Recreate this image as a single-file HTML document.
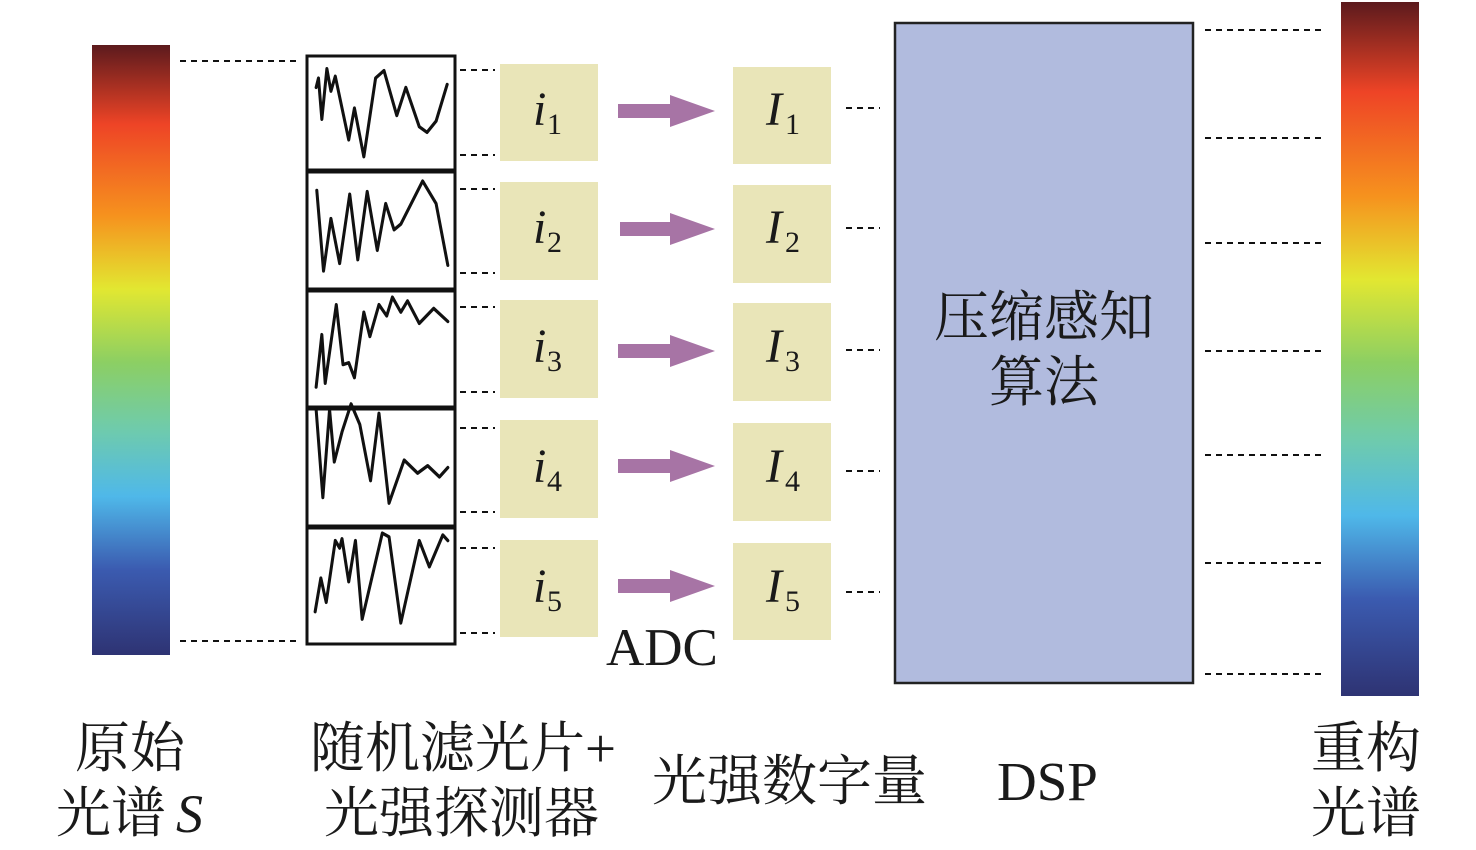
<!DOCTYPE html>
<html><head><meta charset="utf-8"><style>
html,body{margin:0;padding:0;background:#fff;}
svg{display:block;}
.cj{font-family:"Liberation Serif","Noto Serif CJK SC",serif;font-size:55px;fill:#1a1a1a;}
.it{font-family:"Liberation Serif",serif;font-style:italic;font-size:48px;fill:#1a1a1a;}
.sb{font-family:"Liberation Serif",serif;font-size:30px;fill:#1a1a1a;}
</style></head><body>
<svg width="1476" height="850" viewBox="0 0 1476 850" xmlns="http://www.w3.org/2000/svg">
<defs>
<linearGradient id="sp" x1="0" y1="0" x2="0" y2="1">
<stop offset="0" stop-color="#5c1a1d"/>
<stop offset="0.13" stop-color="#ee4426"/>
<stop offset="0.28" stop-color="#f6921e"/>
<stop offset="0.40" stop-color="#e2e731"/>
<stop offset="0.52" stop-color="#8ccf63"/>
<stop offset="0.63" stop-color="#6fcbac"/>
<stop offset="0.74" stop-color="#4fb8e9"/>
<stop offset="0.86" stop-color="#3b5bb0"/>
<stop offset="1" stop-color="#2e3373"/>
</linearGradient>
</defs>
<rect x="92" y="45" width="78" height="610" fill="url(#sp)"/>
<rect x="1341" y="2" width="78" height="694" fill="url(#sp)"/>
<g stroke="#111" stroke-width="2" stroke-dasharray="6,5">
<line x1="180" y1="61" x2="298" y2="61"/>
<line x1="180" y1="641" x2="298" y2="641"/>
<line x1="460" y1="70" x2="495" y2="70"/><line x1="460" y1="155" x2="495" y2="155"/>
<line x1="460" y1="189" x2="495" y2="189"/><line x1="460" y1="273" x2="495" y2="273"/>
<line x1="460" y1="307" x2="495" y2="307"/><line x1="460" y1="392" x2="495" y2="392"/>
<line x1="460" y1="428" x2="495" y2="428"/><line x1="460" y1="512" x2="495" y2="512"/>
<line x1="460" y1="548" x2="495" y2="548"/><line x1="460" y1="633" x2="495" y2="633"/>
<line x1="846" y1="108" x2="880" y2="108"/><line x1="846" y1="228" x2="880" y2="228"/>
<line x1="846" y1="350" x2="880" y2="350"/><line x1="846" y1="471" x2="880" y2="471"/>
<line x1="846" y1="592" x2="880" y2="592"/>
<line x1="1205" y1="30" x2="1322" y2="30"/><line x1="1205" y1="138" x2="1322" y2="138"/>
<line x1="1205" y1="243" x2="1322" y2="243"/><line x1="1205" y1="351" x2="1322" y2="351"/>
<line x1="1205" y1="455" x2="1322" y2="455"/><line x1="1205" y1="563" x2="1322" y2="563"/>
<line x1="1205" y1="674" x2="1322" y2="674"/>
</g>
<g fill="none" stroke="#111" stroke-width="3">
<rect x="307" y="56" width="148" height="114"/>
<rect x="307" y="172" width="148" height="117"/>
<rect x="307" y="291" width="148" height="116"/>
<rect x="307" y="409" width="148" height="117"/>
<rect x="307" y="528" width="148" height="116"/>
</g>
<g transform="translate(300,50) scale(0.336,0.3745)" fill="none" stroke="#111" stroke-width="9" stroke-linejoin="round" stroke-linecap="round">
<polyline points="48,100 55,75 65,185 80,50 92,110 105,70 145,240 162,155 190,285 225,75 250,55 288,175 315,100 355,205 378,220 405,190 438,92"/>
<polyline points="50,375 70,590 92,450 118,570 148,385 172,560 200,378 230,535 255,410 280,480 300,465 365,350 405,410 440,575"/>
<polyline points="48,900 65,760 75,890 108,680 128,840 145,835 162,875 190,700 208,765 235,680 258,710 275,660 300,700 320,670 355,730 398,690 440,725"/>
<polyline points="48,960 68,1195 88,960 102,1100 125,1020 152,945 178,1000 210,1150 235,970 265,1210 310,1095 350,1130 380,1110 415,1140 440,1115"/>
<polyline points="45,1500 62,1410 78,1475 105,1310 118,1330 125,1305 145,1420 165,1310 185,1520 245,1290 265,1300 300,1530 355,1310 385,1380 425,1295 440,1310"/>
</g>
<g fill="#e9e5b8">
<rect x="500" y="64" width="98" height="97"/><rect x="500" y="182" width="98" height="98"/>
<rect x="500" y="300" width="98" height="98"/><rect x="500" y="420" width="98" height="98"/>
<rect x="500" y="540" width="98" height="97"/>
<rect x="733" y="67" width="98" height="97"/><rect x="733" y="185" width="98" height="98"/>
<rect x="733" y="303" width="98" height="98"/><rect x="733" y="423" width="98" height="98"/>
<rect x="733" y="543" width="98" height="97"/>
</g>
<g fill="#a774a5">
<path d="M618,104 h52 v-9 l45,16 l-45,16 v-9 h-52z"/>
<path d="M620,222 h50 v-9 l45,16 l-45,16 v-9 h-50z"/>
<path d="M618,344 h52 v-9 l45,16 l-45,16 v-9 h-52z"/>
<path d="M618,459 h52 v-9 l45,16 l-45,16 v-9 h-52z"/>
<path d="M618,579 h52 v-9 l45,16 l-45,16 v-9 h-52z"/>
</g>
<g>
<text x="533" y="125" class="it">i</text><text x="547" y="134" class="sb">1</text>
<text x="533" y="243" class="it">i</text><text x="547" y="252" class="sb">2</text>
<text x="533" y="362" class="it">i</text><text x="547" y="371" class="sb">3</text>
<text x="533" y="482" class="it">i</text><text x="547" y="491" class="sb">4</text>
<text x="533" y="602" class="it">i</text><text x="547" y="611" class="sb">5</text>
<text x="766" y="125" class="it">I</text><text x="785" y="134" class="sb">1</text>
<text x="766" y="243" class="it">I</text><text x="785" y="252" class="sb">2</text>
<text x="766" y="362" class="it">I</text><text x="785" y="371" class="sb">3</text>
<text x="766" y="482" class="it">I</text><text x="785" y="491" class="sb">4</text>
<text x="766" y="602" class="it">I</text><text x="785" y="611" class="sb">5</text>
</g>
<text x="606" y="665" style="font-family:'Liberation Serif',serif;font-size:53px;fill:#1a1a1a">ADC</text>
<rect x="895" y="23" width="298" height="660" fill="#b1bbde" stroke="#222" stroke-width="2.5"/>
<text x="1044" y="336" class="cj" text-anchor="middle">压缩感知</text>
<text x="1044" y="401" class="cj" text-anchor="middle">算法</text>
<text x="130" y="767" class="cj" text-anchor="middle">原始</text>
<text x="56" y="832" class="cj">光谱</text>
<text x="176" y="832" class="it" style="font-size:54px">S</text>
<text x="310" y="767" class="cj">随机滤光片+</text>
<text x="324" y="832" class="cj">光强探测器</text>
<text x="652" y="800" class="cj">光强数字量</text>
<text x="997" y="800" style="font-family:'Liberation Serif',serif;font-size:55px;fill:#1a1a1a">DSP</text>
<text x="1366" y="767" class="cj" text-anchor="middle">重构</text>
<text x="1366" y="832" class="cj" text-anchor="middle">光谱</text>
</svg>
</body></html>
